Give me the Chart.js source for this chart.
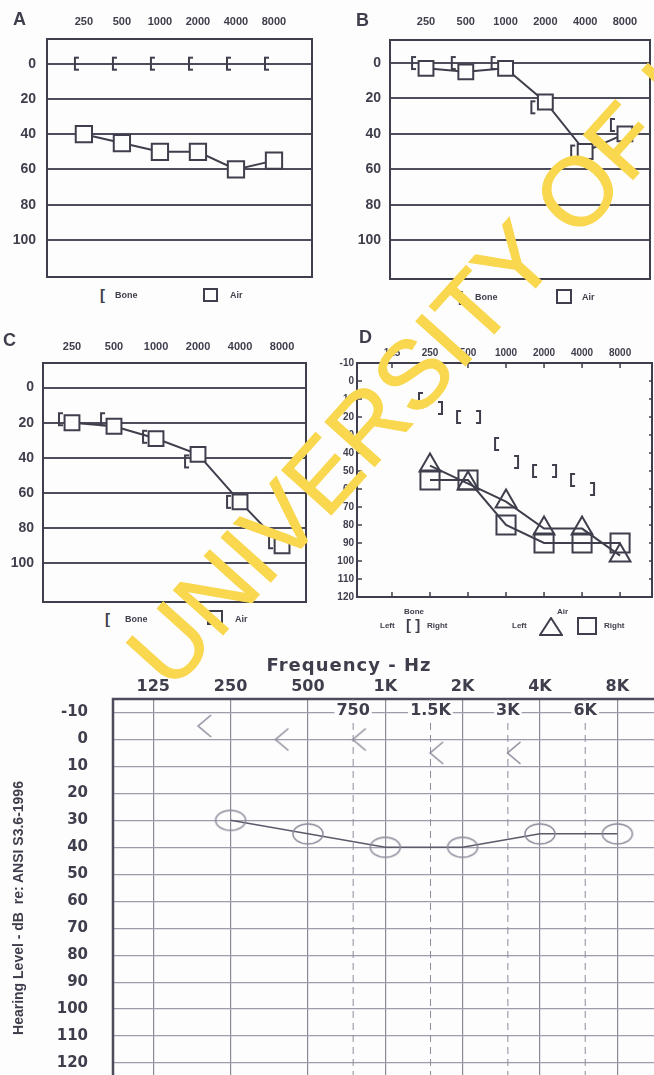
<!DOCTYPE html>
<html>
<head>
<meta charset="utf-8">
<script src="https://cdn.jsdelivr.net/npm/chart.js@4.4.1/dist/chart.umd.min.js"></script>
<style>
    html, body { margin: 0; padding: 0; background: #fdfdfd; }
    body { width: 654px; height: 1075px; position: relative; overflow: hidden;
           font-family: "Liberation Sans", Arial, sans-serif; color: #3f3e4c; }
    canvas { position: absolute; }
    .tag { position: absolute; font-weight: bold; font-size: 18px; line-height: 18px; }
    .lg { position: absolute; font-weight: bold; font-size: 9px; line-height: 16px; white-space: nowrap; }
    .br { font-size: 15px; }
    .sq { position: absolute; border: 2px solid #3f3e4c; box-sizing: border-box; }
    .title { position: absolute; font-weight: bold; white-space: nowrap; text-align: center; }
    .mark { position: absolute; left: 146px; top: 622px; font-size: 97px; line-height: 1;
            font-family: "Liberation Sans", Arial, sans-serif;
            color: rgb(249, 215, 78); -webkit-text-stroke: 1px rgb(249, 215, 78);
            transform-origin: 0 50%; transform: rotate(-48deg); white-space: nowrap; z-index: 5; }
</style>
</head>
<body>

<canvas id="chartA" width="327" height="285" style="left:0;top:0"></canvas>
<canvas id="chartB" width="327" height="290" style="left:327px;top:0"></canvas>
<canvas id="chartC" width="327" height="290" style="left:0;top:320px"></canvas>
<canvas id="chartD" width="327" height="285" style="left:327px;top:320px"></canvas>
<canvas id="chartE" width="660" height="440" style="left:0;top:640px"></canvas>

<div class="tag" style="left:13px;top:10px">A</div>
<div class="tag" style="left:356px;top:11px">B</div>
<div class="tag" style="left:3px;top:331px">C</div>
<div class="tag" style="left:359px;top:328px">D</div>

<!-- legends A-C -->
<div class="lg br" style="left:100px;top:287px">[</div>
<div class="lg" style="left:115px;top:287px">Bone</div>
<div class="sq" style="left:203px;top:288px;width:15px;height:14px"></div>
<div class="lg" style="left:230px;top:287px">Air</div>

<div class="lg br" style="left:458px;top:289px">[</div>
<div class="lg" style="left:475px;top:289px">Bone</div>
<div class="sq" style="left:556px;top:289px;width:16px;height:15px"></div>
<div class="lg" style="left:582px;top:289px">Air</div>

<div class="lg br" style="left:105px;top:611px">[</div>
<div class="lg" style="left:125px;top:611px">Bone</div>
<div class="sq" style="left:207px;top:610px;width:16px;height:15px"></div>
<div class="lg" style="left:235px;top:611px">Air</div>

<!-- legend D -->
<div class="lg" style="left:404px;top:604px;font-size:8px">Bone</div>
<div class="lg" style="left:380px;top:618px;font-size:8px">Left</div>
<div class="lg br" style="left:406px;top:617px">[ ]</div>
<div class="lg" style="left:427px;top:618px;font-size:8px">Right</div>
<div class="lg" style="left:557px;top:604px;font-size:8px">Air</div>
<div class="lg" style="left:512px;top:618px;font-size:8px">Left</div>
<svg style="position:absolute;left:539px;top:617px" width="24" height="19">
    <polygon points="12,1 23,18 1,18" fill="none" stroke="#3f3e4c" stroke-width="2"/>
</svg>
<div class="sq" style="left:577px;top:617px;width:20px;height:18px"></div>
<div class="lg" style="left:604px;top:618px;font-size:8px">Right</div>

<!-- bottom chart titles -->
<div class="title" style="left:229px;top:654px;width:240px;font-family:'DejaVu Sans';font-size:18px;letter-spacing:1px">Frequency - Hz</div>
<div class="title" style="left:-142px;top:900px;width:320px;font-size:14px;transform:rotate(-90deg)">Hearing Level - dB&nbsp; re: ANSI S3.6-1996</div>

<div class="mark">UNIVERSITY OF IBADAN</div>

<script>
// --- Data ---

// panels A, B, C (x = position in freqLabels)
const freqLabels = ['250', '500', '1000', '2000', '4000', '8000'];
const dbTicksABC = [0, 20, 40, 60, 80, 100];

const airA = [40, 45, 50, 50, 60, 55];
const boneA = [0, 0, 0, 0, 0, 0];
const airB = [3, 5, 3, 22, 50, 40];
const boneB = [0, 0, 0, 25, 50, 35];
const airC = [20, 22, 29, 38, 65, 90];
const boneC = [18, 18, 28, 42, 65, 88];

// panel D
const freqLabelsD = ['125', '250', '500', '1000', '2000', '4000', '8000'];
const dbTicksD = [-10, 0, 10, 20, 30, 40, 50, 60, 70, 80, 90, 100, 110, 120];
const airFreqD = ['250', '500', '1000', '2000', '4000', '8000'];
const airLeftD = [47, 57, 67, 82, 82, 97];
const airRightD = [55, 55, 80, 90, 90, 90];
const boneFreqD = ['250', '500', '1000', '2000', '4000'];
const boneLeftD = [10, 20, 35, 50, 55];
const boneRightD = [15, 20, 45, 50, 60];

// bottom audiogram
const octaveFreqs = [125, 250, 500, 1000, 2000, 4000, 8000];
const octaveLabels = ['125', '250', '500', '1K', '2K', '4K', '8K'];
const halfFreqs = [750, 1500, 3000, 6000];
const halfLabels = ['750', '1.5K', '3K', '6K'];
const dbTicksE = [-10, 0, 10, 20, 30, 40, 50, 60, 70, 80, 90, 100, 110, 120];
const airFreqE = [250, 500, 1000, 2000, 4000, 8000];
const airE = [30, 35, 40, 40, 35, 35];
const boneFreqE = [250, 500, 1000, 2000, 4000];
const boneE = [-5, 0, 0, 5, 5];

// --- Look ---
const INK = '#3f3e4c';
const PAPER = '#fdfdfd';
const PENCIL = '#8d8c9b';

Chart.defaults.font.family = '"Liberation Sans", Arial, sans-serif';
Chart.defaults.color = INK;

const octave = f => Math.log2(f / 125);

// small drawn marks used as point styles
function bracket(side, off, h, lw, color) {
    const c = document.createElement('canvas');
    const half = Math.abs(off) + 6;
    c.width = half * 2;
    c.height = h + 4;
    const g = c.getContext('2d');
    const arm = side === '[' ? 4 : -4;
    const xv = half + off - arm / 2;
    g.strokeStyle = color;
    g.lineWidth = lw;
    g.beginPath();
    g.moveTo(xv + arm, 2);
    g.lineTo(xv, 2);
    g.lineTo(xv, h + 2);
    g.lineTo(xv + arm, h + 2);
    g.stroke();
    return c;
}

function chevron(off, w, h, lw, color) {
    const c = document.createElement('canvas');
    const half = Math.abs(off) + w;
    c.width = half * 2;
    c.height = h + 4;
    const g = c.getContext('2d');
    const cx = half + off;
    g.strokeStyle = color;
    g.lineWidth = lw;
    g.beginPath();
    g.moveTo(cx + w / 2, 2);
    g.lineTo(cx - w / 2, h / 2 + 2);
    g.lineTo(cx + w / 2, h + 2);
    g.stroke();
    return c;
}

function ellipse(rx, ry, lw, color) {
    const c = document.createElement('canvas');
    c.width = rx * 2 + 4;
    c.height = ry * 2 + 4;
    const g = c.getContext('2d');
    g.strokeStyle = color;
    g.lineWidth = lw;
    g.beginPath();
    g.ellipse(rx + 2, ry + 2, rx, ry, 0, 0, Math.PI * 2);
    g.stroke();
    return c;
}

// --- Plugins ---

const framePlugin = {
    id: 'frame',
    beforeDatasetsDraw(chart, args, opts) {
        const a = chart.chartArea, g = chart.ctx;
        g.save();
        g.strokeStyle = opts.color || INK;
        g.lineWidth = opts.width || 2;
        g.strokeRect(a.left, a.top, a.right - a.left, a.bottom - a.top);
        g.restore();
    }
};

const innerTicksPlugin = {
    id: 'innerTicks',
    beforeDatasetsDraw(chart, args, opts) {
        if (!opts.len) return;
        const a = chart.chartArea, g = chart.ctx;
        const xs = chart.scales.x, ys = chart.scales.y;
        const seg = (x1, y1, x2, y2) => { g.beginPath(); g.moveTo(x1, y1); g.lineTo(x2, y2); g.stroke(); };
        g.save();
        g.strokeStyle = INK;
        g.lineWidth = 1.5;
        xs.ticks.forEach(t => {
            const px = xs.getPixelForValue(t.value);
            seg(px, a.top, px, a.top + opts.len);
            seg(px, a.bottom, px, a.bottom - opts.len);
        });
        ys.ticks.forEach(t => {
            const py = ys.getPixelForValue(t.value);
            seg(a.left, py, a.left + opts.len, py);
            seg(a.right, py, a.right - 3, py);
        });
        g.restore();
    }
};

const halfOctavePlugin = {
    id: 'halfOctaves',
    beforeDatasetsDraw(chart, args, opts) {
        if (!opts.on) return;
        const a = chart.chartArea, g = chart.ctx, xs = chart.scales.x;
        g.save();
        g.strokeStyle = PENCIL;
        g.lineWidth = 1;
        g.setLineDash([7, 5]);
        halfFreqs.forEach(f => {
            const px = xs.getPixelForValue(octave(f));
            g.beginPath();
            g.moveTo(px, a.top);
            g.lineTo(px, a.bottom);
            g.stroke();
        });
        g.setLineDash([]);
        g.font = 'bold 16px "DejaVu Sans"';
        g.textAlign = 'center';
        g.textBaseline = 'middle';
        halfFreqs.forEach((f, i) => {
            const px = xs.getPixelForValue(octave(f));
            const w = g.measureText(halfLabels[i]).width;
            g.fillStyle = PAPER;
            g.fillRect(px - w / 2 - 2, a.top + 2, w + 4, 17);
            g.fillStyle = INK;
            g.fillText(halfLabels[i], px, a.top + 12);
        });
        g.restore();
    }
};

// --- Chart builders ---

function baseOptions(o) {
    return {
        responsive: false,
        animation: false,
        layout: {
            autoPadding: false, // big markers must not shrink the plot box
            padding: { left: 0, top: 0, right: o.padRight, bottom: o.padBottom }
        },
        plugins: {
            legend: { display: false },
            tooltip: { enabled: false },
            frame: { color: o.frameColor, width: o.frameWidth },
            innerTicks: { len: o.innerTicks || 0 },
            halfOctaves: { on: !!o.halfOctaves }
        },
        scales: {
            x: {
                type: 'linear',
                position: 'top',
                min: o.xMin,
                max: o.xMax,
                afterBuildTicks: s => { s.ticks = o.xTicks.map(v => ({ value: v })); },
                afterFit: s => {
                    // keep the plot box where the picture has it
                    s.height = o.axisH;
                    s.paddingLeft = 0;
                    s.paddingRight = 0;
                },
                ticks: {
                    autoSkip: false,
                    maxRotation: 0,
                    padding: o.xPad,
                    font: o.xFont,
                    callback: (v, i) => o.xLabels[i]
                },
                grid: o.xGrid || { display: false, drawTicks: false },
                border: { display: false }
            },
            y: {
                type: 'linear',
                reverse: true,
                min: o.yMin,
                max: o.yMax,
                afterBuildTicks: s => { s.ticks = o.yTicks.map(v => ({ value: v })); },
                afterFit: s => {
                    s.width = o.axisW;
                    s.paddingTop = 0;
                    s.paddingBottom = 0;
                },
                ticks: {
                    autoSkip: false,
                    padding: o.yPad,
                    font: o.yFont,
                    callback: v => String(v)
                },
                grid: o.yGrid || { display: false, drawTicks: false },
                border: { display: false }
            }
        }
    };
}

function abcPanel(id, air, bone, o) {
    const boneMark = bracket('[', o.boneOff, 12, 2, INK);
    new Chart(document.getElementById(id), {
        type: 'line',
        data: {
            datasets: [
                {
                    data: air.map((v, i) => ({ x: i, y: v })),
                    borderColor: INK,
                    borderWidth: 2,
                    pointStyle: 'rect',
                    pointRadius: o.squareR,
                    pointBorderWidth: 2,
                    pointBorderColor: INK,
                    pointBackgroundColor: PAPER
                },
                {
                    data: bone.map((v, i) => ({ x: i, y: v })),
                    showLine: false,
                    pointStyle: boneMark,
                    pointRadius: 5
                }
            ]
        },
        options: baseOptions(Object.assign({
            xTicks: freqLabels.map((_, i) => i),
            xLabels: freqLabels,
            xFont: { size: 11, weight: 'bold' },
            yTicks: dbTicksABC,
            yFont: { size: 14, weight: 'bold' },
            yGrid: { color: '#4e4d5c', lineWidth: 2, drawTicks: false },
            frameColor: INK,
            frameWidth: 2
        }, o)),
        plugins: [framePlugin]
    });
}

abcPanel('chartA', airA, boneA, {
    xMin: -0.97, xMax: 6.0, yMin: -14, yMax: 121,
    axisW: 47, axisH: 39, padRight: 15, padBottom: 8,
    xPad: 10, yPad: 11, squareR: 11.5, boneOff: -7
});

abcPanel('chartB', airB, boneB, {
    xMin: -0.905, xMax: 5.63, yMin: -13, yMax: 122,
    axisW: 63, axisH: 40, padRight: 4, padBottom: 11,
    xPad: 11, yPad: 9, squareR: 10.5, boneOff: -12
});

abcPanel('chartC', airC, boneC, {
    xMin: -0.69, xMax: 5.57, yMin: -14, yMax: 122,
    axisW: 43, axisH: 43, padRight: 21, padBottom: 8,
    xPad: 9, yPad: 9, squareR: 10.5, boneOff: -11
});

// panel D
const dIndex = f => freqLabelsD.indexOf(f);
new Chart(document.getElementById('chartD'), {
    type: 'line',
    data: {
        datasets: [
            {
                data: airFreqD.map((f, i) => ({ x: dIndex(f), y: airRightD[i] })),
                borderColor: INK,
                borderWidth: 2,
                pointStyle: 'rect',
                pointRadius: 13.5,
                pointBorderWidth: 2,
                pointBorderColor: INK,
                pointBackgroundColor: 'rgba(0,0,0,0)'
            },
            {
                data: airFreqD.map((f, i) => ({ x: dIndex(f), y: airLeftD[i] })),
                borderColor: INK,
                borderWidth: 2,
                pointStyle: 'triangle',
                pointRadius: 12,
                pointBorderWidth: 2,
                pointBorderColor: INK,
                pointBackgroundColor: 'rgba(0,0,0,0)'
            },
            {
                data: boneFreqD.map((f, i) => ({ x: dIndex(f), y: boneLeftD[i] })),
                showLine: false,
                pointStyle: bracket('[', -9, 12, 2, INK),
                pointRadius: 5
            },
            {
                data: boneFreqD.map((f, i) => ({ x: dIndex(f), y: boneRightD[i] })),
                showLine: false,
                pointStyle: bracket(']', 10, 12, 2, INK),
                pointRadius: 5
            }
        ]
    },
    options: baseOptions({
        xMin: -0.92, xMax: 6.84, yMin: -10, yMax: 120,
        axisW: 30, axisH: 43, padRight: 2, padBottom: 8,
        xTicks: freqLabelsD.map((_, i) => i),
        xLabels: freqLabelsD,
        xFont: { size: 10, weight: 'bold' },
        xPad: 4,
        yTicks: dbTicksD,
        yFont: { size: 10, weight: 'bold' },
        yPad: 3,
        frameColor: INK,
        frameWidth: 2,
        innerTicks: 5
    }),
    plugins: [framePlugin, innerTicksPlugin]
});

// bottom audiogram
new Chart(document.getElementById('chartE'), {
    type: 'line',
    data: {
        datasets: [
            {
                data: airFreqE.map((f, i) => ({ x: octave(f), y: airE[i] })),
                borderColor: '#5b5a6a',
                borderWidth: 1.5,
                pointStyle: ellipse(15, 10, 1.5, PENCIL),
                pointRadius: 5
            },
            {
                data: boneFreqE.map((f, i) => ({ x: octave(f), y: boneE[i] })),
                showLine: false,
                pointStyle: chevron(-26, 13, 22, 1.5, PENCIL),
                pointRadius: 5
            }
        ]
    },
    options: baseOptions({
        xMin: -0.52, xMax: 6.5, yMin: -15, yMax: 125,
        axisW: 113, axisH: 59, padRight: 4, padBottom: 3.5,
        xTicks: octaveFreqs.map(octave),
        xLabels: octaveLabels,
        xFont: { family: '"DejaVu Sans"', size: 16, weight: 'bold' },
        xPad: 3,
        xGrid: { color: '#8a8a99', lineWidth: 1.2, drawTicks: false },
        yTicks: dbTicksE,
        yFont: { family: '"DejaVu Sans"', size: 15, weight: 'bold' },
        yPad: 25,
        yGrid: { color: '#9d9cab', lineWidth: 1.2, drawTicks: false },
        frameColor: '#4d4c5c',
        frameWidth: 2.5,
        halfOctaves: true
    }),
    plugins: [framePlugin, halfOctavePlugin]
});
</script>
</body>
</html>
